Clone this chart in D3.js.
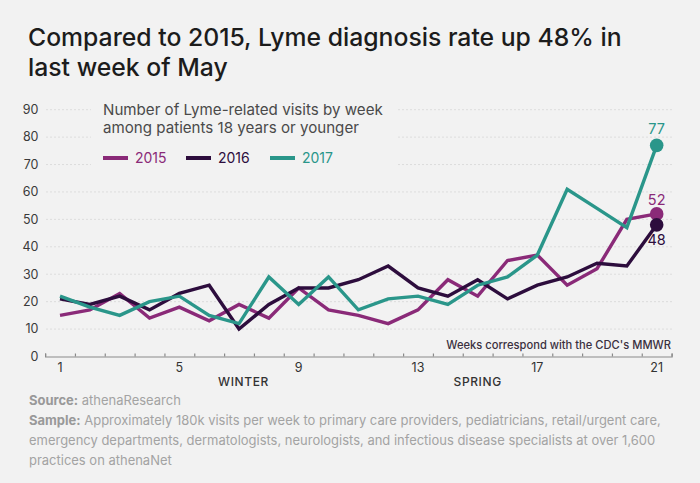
<!DOCTYPE html>
<html>
<head>
<meta charset="utf-8">
<script src="https://cdn.jsdelivr.net/npm/d3@7"></script>
<style>
  html, body { margin: 0; padding: 0; background: #f2f2f2; }
  svg { display: block; }
  text { font-family: Inter, "Open Sans", sans-serif; }
</style>
</head>
<body>
<svg id="chart" width="700" height="483"></svg>
<script>
// ---- data ----
const weeks = [1,2,3,4,5,6,7,8,9,10,11,12,13,14,15,16,17,18,19,20,21];
const v2015 = [15,17,23,14,18,13,19,14,25,17,15,12,17,28,22,35,37,26,32,50,52];
const v2016 = [21,19,22,17,23,26,10,19,25,25,28,33,25,22,28,21,26,29,34,33,48];
const v2017 = [22,18,15,20,22,15,12,29,19,29,17,21,22,19,26,29,37,61,54,47,77];
const seriesNames = ["2015", "2016", "2017"];
const yTicks = [0,10,20,30,40,50,60,70,80,90];
const xTickLabels = [1,5,9,13,17,21];
const seasons = [{label: "WINTER", week: 7.15}, {label: "SPRING", week: 15}];
const titleLines = ["Compared to 2015, Lyme diagnosis rate up 48% in", "last week of May"];
const subtitleLines = ["Number of Lyme-related visits by week", "among patients 18 years or younger"];
const note = "Weeks correspond with the CDC's MMWR";

const colors = {"2015": "#8a2a78", "2016": "#2d0d3d", "2017": "#2a968a"};
const series = [
  {name: "2015", values: v2015},
  {name: "2016", values: v2016},
  {name: "2017", values: v2017}
];

const svg = d3.select("#chart");
svg.append("rect").attr("width", 700).attr("height", 483).attr("fill", "#f2f2f2");

function fit(sel, target) {
  const node = sel.node();
  const fs = parseFloat(sel.attr("font-size"));
  const w = node.getComputedTextLength();
  const nfs = fs * target / w;
  sel.attr("font-size", nfs);
  return nfs;
}

// ---- title ----
const t1 = svg.append("text").attr("x", 28).attr("y", 46)
  .attr("font-size", 23).attr("font-weight", 500).attr("fill", "#1c1c1c").text(titleLines[0]);
const tfs = fit(t1, 594);
svg.append("text").attr("x", 28).attr("y", 76)
  .attr("font-size", tfs).attr("font-weight", 500).attr("fill", "#1c1c1c").text(titleLines[1]);

// ---- scales ----
const x = d3.scaleLinear().domain([0.5, 21.5]).range([45.1, 671.6]);
const y = d3.scaleLinear().domain([0, 90]).range([356.5, 109.7]);

// ---- gridlines ----
svg.append("g").selectAll("line").data(yTicks.filter(d => d > 0)).join("line")
  .attr("x1", 46.5).attr("x2", 671.6)
  .attr("y1", d => y(d)).attr("y2", d => y(d))
  .attr("stroke", "#c8c8c8").attr("stroke-width", 1).attr("stroke-dasharray", "1,3");

// y labels
svg.append("g").selectAll("text").data(yTicks).join("text")
  .attr("x", 38.5).attr("y", d => y(d)).attr("dy", "0.35em")
  .attr("text-anchor", "end").attr("font-size", 12.5).attr("fill", "#3a3a3a")
  .text(d => d);

// background patch behind subtitle / legend
svg.append("rect").attr("x", 91).attr("y", 100).attr("width", 306).attr("height", 72).attr("fill", "#f2f2f2");

// subtitle
const s1 = svg.append("text").attr("x", 103).attr("y", 115)
  .attr("font-size", 15).attr("fill", "#4a4a4a").text(subtitleLines[0]);
const sfs = fit(s1, 280);
svg.append("text").attr("x", 103).attr("y", 133)
  .attr("font-size", sfs).attr("fill", "#4a4a4a").text(subtitleLines[1]);

// legend
const legendX = [103, 186, 270];
const lg = svg.append("g").selectAll("g").data(seriesNames).join("g")
  .attr("transform", (d, i) => `translate(${legendX[i]},158)`);
lg.append("line").attr("x1", 0).attr("x2", 25).attr("y1", 0).attr("y2", 0)
  .attr("stroke", d => colors[d]).attr("stroke-width", 4);
lg.append("text").attr("x", 32).attr("y", 0).attr("dy", "0.36em")
  .attr("font-size", 14).attr("fill", d => colors[d]).text(d => d);

// ---- x axis ----
const xAxis = d3.axisBottom(x)
  .tickValues(d3.range(0.5, 21.6, 1))
  .tickSize(-3)
  .tickFormat("");
const ax = svg.append("g").attr("transform", `translate(0,${y(0)})`).call(xAxis);
ax.select(".domain").attr("stroke", "#8a8a8a").attr("stroke-width", 1.2);
ax.selectAll(".tick line").attr("stroke", "#8a8a8a").attr("stroke-width", 1.2);

svg.append("g").selectAll("text").data(xTickLabels).join("text")
  .attr("x", d => x(d)).attr("y", 371.5).attr("text-anchor", "middle")
  .attr("font-size", 12.5).attr("fill", "#333").text(d => d);

svg.append("g").selectAll("text").data(seasons).join("text")
  .attr("x", d => x(d.week)).attr("y", 386).attr("text-anchor", "middle")
  .attr("font-size", 12).attr("font-weight", 500).attr("letter-spacing", 0.6)
  .attr("fill", "#333").text(d => d.label);

// note
const nt = svg.append("text").attr("x", 671).attr("y", 349).attr("text-anchor", "end")
  .attr("font-size", 12.5).attr("font-weight", 500).attr("fill", "#3a3040").text(note);
fit(nt, 225);

// ---- lines ----
const line = d3.line().x((d, i) => x(weeks[i])).y(d => y(d));
svg.append("g").selectAll("path").data(series).join("path")
  .attr("d", d => line(d.values))
  .attr("fill", "none").attr("stroke", d => colors[d.name])
  .attr("stroke-width", 3.4).attr("stroke-linejoin", "miter");

// end points
const last = weeks.length - 1;
svg.append("g").selectAll("circle").data(series).join("circle")
  .attr("cx", x(weeks[last])).attr("cy", d => y(d.values[last])).attr("r", 6.8)
  .attr("fill", d => colors[d.name]);

const labelOffset = {"2015": -9, "2016": 20, "2017": -11};
svg.append("g").selectAll("text").data(series).join("text")
  .attr("x", x(weeks[last])).attr("y", d => y(d.values[last]) + labelOffset[d.name])
  .attr("text-anchor", "middle").attr("font-size", 14.5).attr("fill", d => colors[d.name])
  .text(d => d.values[last]);

// ---- footer ----
const footerLines = [
  [{b: "Source:", t: " athenaResearch"}],
  [{b: "Sample:", t: " Approximately 180k visits per week to primary care providers, pediatricians, retail/urgent care,"}],
  [{b: "", t: "emergency departments, dermatologists, neurologists, and infectious disease specialists at over 1,600"}],
  [{b: "", t: "practices on athenaNet"}]
];
const footerY = [404.5, 425, 445, 464.5];
const ft = svg.append("g").selectAll("text").data(footerLines).join("text")
  .attr("x", 29).attr("y", (d, i) => footerY[i]).attr("font-size", 13).attr("fill", "#a3a3a3");
ft.each(function(d) {
  const el = d3.select(this);
  d.forEach(p => {
    if (p.b) el.append("tspan").attr("font-weight", 700).attr("fill", "#999").text(p.b);
    el.append("tspan").text(p.t);
  });
});
const ffs = fit(d3.select(ft.nodes()[1]), 632);
ft.attr("font-size", ffs);
</script>
</body>
</html>
